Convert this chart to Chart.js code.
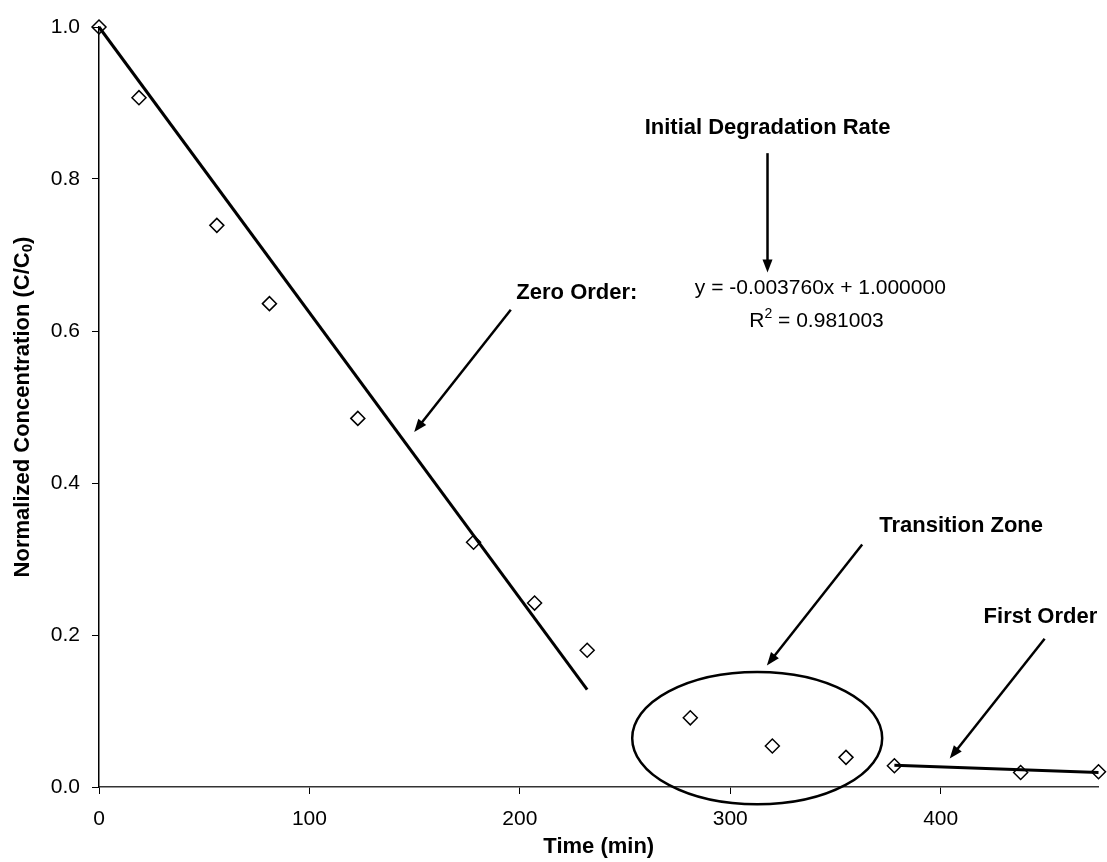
<!DOCTYPE html>
<html>
<head>
<meta charset="utf-8">
<script src="https://cdn.jsdelivr.net/npm/chart.js@4.4.1/dist/chart.umd.min.js"></script>
<style>
  body { margin: 0; background: #fff; }
  #wrap { width: 1107px; height: 862px; position: relative; }
</style>
</head>
<body>
<div id="wrap"><canvas id="myChart"></canvas></div>
<script>
// data
var times = [0, 19, 56, 81, 123, 178, 207, 232, 281, 320, 355, 378, 438, 475];
var conc = [1.0, 0.907, 0.739, 0.636, 0.485, 0.322, 0.242, 0.180, 0.091, 0.054, 0.039, 0.028, 0.019, 0.020];

var zeroFitX = [0, 232];
var zeroFitY = [1.0, 0.128];
var firstFitX = [378, 475];
var firstFitY = [0.0285, 0.019];

var xTicks = [0, 100, 200, 300, 400];
var yTicks = [0, 0.2, 0.4, 0.6, 0.8, 1.0];

var FONT = "'Liberation Sans', Arial, sans-serif";

function pairs(xs, ys) {
  return xs.map(function (x, i) { return { x: x, y: ys[i] }; });
}

// annotation positions, in data units
var notes = {
  initial: { x: 317.7, y: 0.867 },
  initArrow: [317.7, 0.834, 317.7, 0.677],
  eq: { x: 342.8, y: 0.656 },
  r2: { x: 341, y: 0.613 },
  zero: { x: 227.1, y: 0.650 },
  zeroArrow: [195.7, 0.628, 149.8, 0.467],
  trans: { x: 409.7, y: 0.344 },
  transArrow: [362.7, 0.319, 317.4, 0.160],
  ellipse: { x: 312.8, y: 0.0643, rx: 59.4, ry: 0.0871 },
  first: { x: 447.4, y: 0.224 },
  firstArrow: [449.4, 0.195, 404.3, 0.0374]
};

function arrow(ctx, x1, y1, x2, y2) {
  var a = Math.atan2(y2 - y1, x2 - x1);
  var hl = 13, hw = 5;
  ctx.beginPath();
  ctx.moveTo(x1, y1);
  ctx.lineTo(x2 - Math.cos(a) * hl * 0.8, y2 - Math.sin(a) * hl * 0.8);
  ctx.lineWidth = 2.5;
  ctx.strokeStyle = '#000';
  ctx.stroke();
  ctx.beginPath();
  ctx.moveTo(x2, y2);
  ctx.lineTo(x2 - Math.cos(a) * hl - Math.sin(a) * hw, y2 - Math.sin(a) * hl + Math.cos(a) * hw);
  ctx.lineTo(x2 - Math.cos(a) * hl + Math.sin(a) * hw, y2 - Math.sin(a) * hl - Math.cos(a) * hw);
  ctx.closePath();
  ctx.fillStyle = '#000';
  ctx.fill();
}

var notesPlugin = {
  id: 'notes',
  afterDraw: function (chart) {
    var ctx = chart.ctx;
    var xs = chart.scales.x, ys = chart.scales.y;
    var px = function (v) { return xs.getPixelForValue(v); };
    var py = function (v) { return ys.getPixelForValue(v); };
    var ca = chart.chartArea;

    ctx.save();
    ctx.fillStyle = '#000';
    ctx.textBaseline = 'middle';
    ctx.textAlign = 'center';

    ctx.font = 'bold 22px ' + FONT;
    ctx.fillText('Initial Degradation Rate', px(notes.initial.x), py(notes.initial.y));
    ctx.fillText('Zero Order:', px(notes.zero.x), py(notes.zero.y));
    ctx.fillText('Transition Zone', px(notes.trans.x), py(notes.trans.y));
    ctx.fillText('First Order', px(notes.first.x), py(notes.first.y));

    ctx.font = '21px ' + FONT;
    ctx.fillText('y = -0.003760x + 1.000000', px(notes.eq.x), py(notes.eq.y));

    // R² line with superscript
    var a = 'R', b = '2', c = ' = 0.981003';
    ctx.font = '21px ' + FONT;
    var wa = ctx.measureText(a).width, wc = ctx.measureText(c).width;
    ctx.font = '14px ' + FONT;
    var wb = ctx.measureText(b).width;
    var x0 = px(notes.r2.x) - (wa + wb + wc) / 2, y0 = py(notes.r2.y);
    ctx.textAlign = 'left';
    ctx.font = '21px ' + FONT;
    ctx.fillText(a, x0, y0);
    ctx.fillText(c, x0 + wa + wb, y0);
    ctx.font = '14px ' + FONT;
    ctx.fillText(b, x0 + wa, y0 - 7);

    arrow(ctx, px(notes.initArrow[0]), py(notes.initArrow[1]), px(notes.initArrow[2]), py(notes.initArrow[3]));
    arrow(ctx, px(notes.zeroArrow[0]), py(notes.zeroArrow[1]), px(notes.zeroArrow[2]), py(notes.zeroArrow[3]));
    arrow(ctx, px(notes.transArrow[0]), py(notes.transArrow[1]), px(notes.transArrow[2]), py(notes.transArrow[3]));
    arrow(ctx, px(notes.firstArrow[0]), py(notes.firstArrow[1]), px(notes.firstArrow[2]), py(notes.firstArrow[3]));

    var e = notes.ellipse;
    ctx.beginPath();
    ctx.ellipse(px(e.x), py(e.y), px(e.x + e.rx) - px(e.x), py(e.y) - py(e.y + e.ry), 0, 0, Math.PI * 2);
    ctx.lineWidth = 2.5;
    ctx.strokeStyle = '#000';
    ctx.stroke();

    // axis titles
    ctx.textAlign = 'center';
    ctx.font = 'bold 22px ' + FONT;
    ctx.fillText('Time (min)', (ca.left + ca.right) / 2, 847);

    ctx.translate(22.5, (ca.top + ca.bottom) / 2);
    ctx.rotate(-Math.PI / 2);
    var t1 = 'Normalized Concentration (C/C', t2 = '0', t3 = ')';
    ctx.font = 'bold 22px ' + FONT;
    var w1 = ctx.measureText(t1).width, w3 = ctx.measureText(t3).width;
    ctx.font = 'bold 15px ' + FONT;
    var w2 = ctx.measureText(t2).width;
    var s = -(w1 + w2 + w3) / 2;
    ctx.textAlign = 'left';
    ctx.font = 'bold 22px ' + FONT;
    ctx.fillText(t1, s, 0);
    ctx.fillText(t3, s + w1 + w2, 0);
    ctx.font = 'bold 15px ' + FONT;
    ctx.fillText(t2, s + w1, 5);
    ctx.restore();
  }
};

new Chart('myChart', {
  type: 'scatter',
  data: {
    datasets: [{
      label: 'data',
      data: pairs(times, conc),
      pointStyle: 'rectRot',
      pointRadius: 7,
      pointBorderWidth: 1.5,
      borderColor: '#000',
      backgroundColor: 'rgba(0,0,0,0)',
      showLine: false,
      clip: false
    }, {
      label: 'zero order',
      data: pairs(zeroFitX, zeroFitY),
      showLine: true,
      pointRadius: 0,
      borderColor: '#000',
      borderWidth: 3,
      clip: false
    }, {
      label: 'first order',
      data: pairs(firstFitX, firstFitY),
      showLine: true,
      pointRadius: 0,
      borderColor: '#000',
      borderWidth: 3,
      clip: false
    }]
  },
  options: {
    responsive: true,
    maintainAspectRatio: false,
    animation: false,
    events: [],
    layout: { padding: { left: 0, right: 6, top: 27, bottom: 0 } },
    plugins: {
      legend: { display: false },
      tooltip: { enabled: false }
    },
    scales: {
      x: {
        type: 'linear',
        min: 0,
        max: 475,
        afterFit: function (scale) { scale.height = 75; },
        afterBuildTicks: function (scale) {
          scale.ticks = xTicks.map(function (v) { return { value: v }; });
        },
        ticks: {
          color: '#000',
          font: { family: FONT, size: 21 },
          padding: 13,
          maxRotation: 0
        },
        grid: { drawOnChartArea: false, drawTicks: true, tickLength: 7, color: '#000' },
        border: { display: true, color: '#333', width: 1.5 }
      },
      y: {
        type: 'linear',
        min: 0,
        max: 1,
        afterFit: function (scale) { scale.width = 99; },
        afterBuildTicks: function (scale) {
          scale.ticks = yTicks.map(function (v) { return { value: v }; });
        },
        ticks: {
          color: '#000',
          font: { family: FONT, size: 21 },
          padding: 12,
          callback: function (v) { return v.toFixed(1); }
        },
        grid: { drawOnChartArea: false, drawTicks: true, tickLength: 7, color: '#000' },
        border: { display: true, color: '#000', width: 1.5 }
      }
    }
  },
  plugins: [notesPlugin]
});
</script>
</body>
</html>
